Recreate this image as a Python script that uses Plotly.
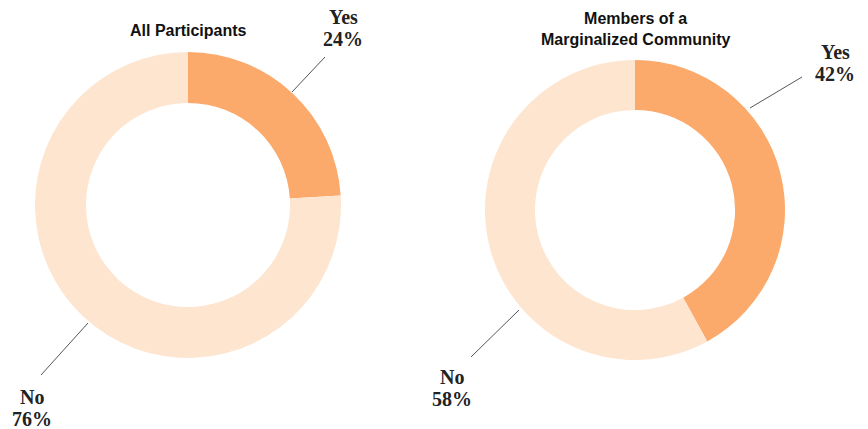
import plotly.graph_objects as go

W, H = 868, 429

categories = ["Yes", "No"]
all_participants = [24, 76]
marginalized = [42, 58]
titles = ["All Participants", "Members of a<br>Marginalized Community"]
colors = ["#FBAA6B", "#FDE5D0"]

def px(x):
    return x / W

def py(y):
    return 1 - y / H

fig = go.Figure()

fig.add_trace(go.Pie(
    labels=categories, values=all_participants, hole=0.667,
    sort=False, direction="clockwise", rotation=0,
    marker=dict(colors=colors, line=dict(width=0)),
    textinfo="none", showlegend=False,
    domain=dict(x=[px(35), px(341)], y=[py(358), py(52)]),
))
fig.add_trace(go.Pie(
    labels=categories, values=marginalized, hole=0.667,
    sort=False, direction="clockwise", rotation=0,
    marker=dict(colors=colors, line=dict(width=0)),
    textinfo="none", showlegend=False,
    domain=dict(x=[px(485), px(785)], y=[py(360), py(60)]),
))

title_font = dict(family="Liberation Sans, Arial", size=16, color="#111")
label_font = dict(family="Liberation Serif, Times New Roman", size=20, color="#222")

annotations = [
    dict(x=px(188), y=py(31), text="<b>" + titles[0] + "</b>", font=title_font),
    dict(x=px(635), y=py(29), text="<b>" + titles[1] + "</b>", font=title_font),
]

# (label x, label y of first line) per slice label; second line 22px below
label_pos = [
    (343, 17, categories[0], all_participants[0]),
    (32, 397, categories[1], all_participants[1]),
    (835, 52, categories[0], marginalized[0]),
    (452, 377, categories[1], marginalized[1]),
]
for x, y, cat, val in label_pos:
    annotations.append(dict(x=px(x), y=py(y), text="<b>%s</b>" % cat, font=label_font))
    annotations.append(dict(x=px(x), y=py(y + 22), text="<b>%d%%</b>" % val, font=label_font))

for a in annotations:
    a.update(xref="paper", yref="paper", showarrow=False, xanchor="center", yanchor="middle", align="center")

line = dict(color="#555", width=1)
shapes = [
    dict(type="line", xref="paper", yref="paper", x0=px(292), y0=py(92), x1=px(325), y1=py(57), line=line),
    dict(type="line", xref="paper", yref="paper", x0=px(41), y0=py(375), x1=px(88), y1=py(323), line=line),
    dict(type="line", xref="paper", yref="paper", x0=px(750), y0=py(108), x1=px(802), y1=py(77), line=line),
    dict(type="line", xref="paper", yref="paper", x0=px(471), y0=py(357), x1=px(519), y1=py(310), line=line),
]

fig.update_layout(
    width=W, height=H,
    margin=dict(l=0, r=0, t=0, b=0),
    paper_bgcolor="white", plot_bgcolor="white",
    annotations=annotations, shapes=shapes,
)

fig.write_html("out.html", config={"displayModeBar": False},
               post_script="document.body.style.margin='0';")
